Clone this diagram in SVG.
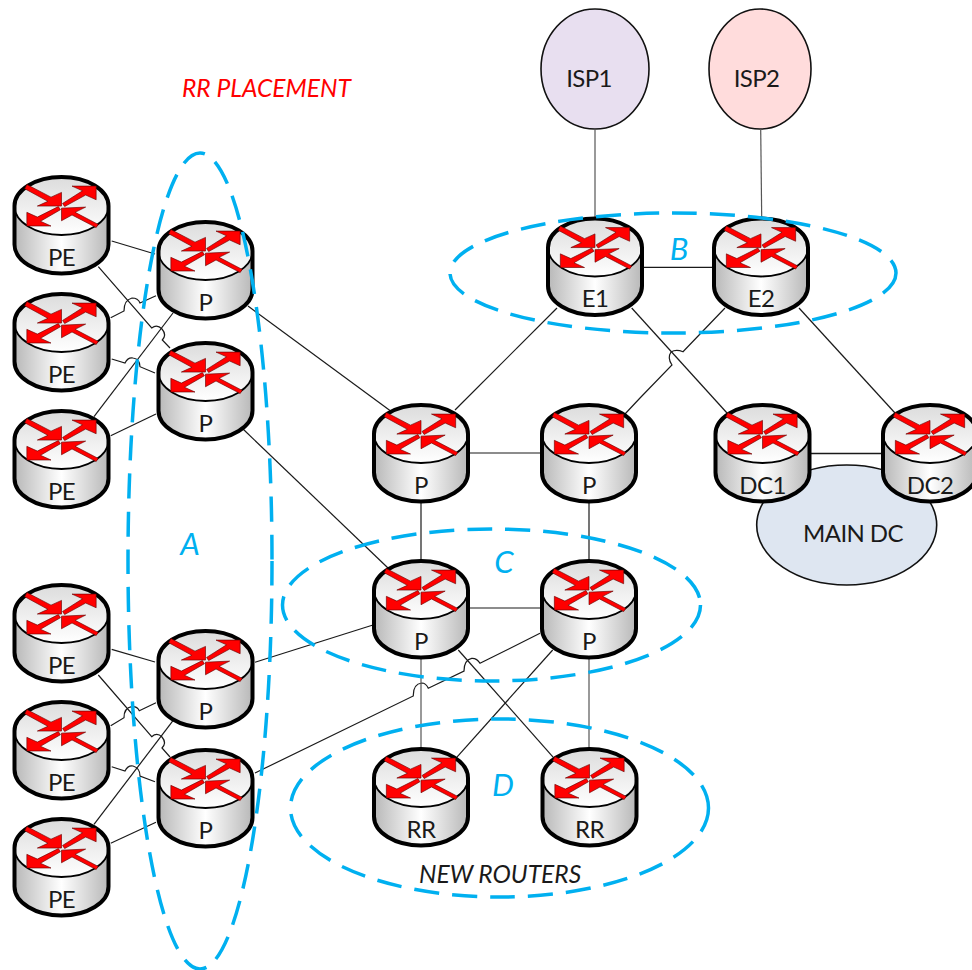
<svg xmlns="http://www.w3.org/2000/svg" width="972" height="970" viewBox="0 0 972 970">
<style>
text{font-family:Lato,"Liberation Sans",sans-serif;fill:#1a1a1a}
.lbl{font-size:24px;letter-spacing:-.6px;text-anchor:middle}
.cl{font-size:31px;font-style:italic;fill:#00b0f0;text-anchor:middle}
.it{font-size:24.600px;font-style:italic}
.dash{fill:none;stroke:#00b0f0;stroke-width:3.500;stroke-dasharray:25 13}
.conn path{fill:none;stroke:#1a1a1a;stroke-width:1.200}
.cloud{stroke:#111;stroke-width:1.600}
</style>
<defs>
<linearGradient id="body"><stop offset="0" stop-color="#b8b8b8"/><stop offset=".5" stop-color="#fff"/><stop offset="1" stop-color="#b8b8b8"/></linearGradient>
<linearGradient id="top" x1="0" y1="0" x2="0" y2="1"><stop offset="0" stop-color="#dcdcdc"/><stop offset="1" stop-color="#fff"/></linearGradient>
<g id="router">
<path d="M-47 1V39.500A47 29 0 0 0 47 39.500V1Z" fill="url(#body)"/>
<ellipse cy="1" rx="47" ry="29" fill="url(#top)" stroke="#000" stroke-width="1.800"/>
<path d="M-47 1A47 29 0 0 1 47 1V39.500A47 29 0 0 1 -47 39.500Z" fill="none" stroke="#000" stroke-width="4"/>
<g fill="#f00" stroke="#600" stroke-width=".6" transform="scale(1.050)">
<polygon points="-33,-19.500 -10,-7.500 0,-12 0,1 -23,1 -13,-3.500 -35,-15.500"/>
<polygon points="33,-18 33,-5 23,-9.500 3,1.500 1,-1.500 20,-13.500 10,-18"/>
<polygon points="-33,20 -33,7 -23,11.500 -3,1.500 -1,4.500 -20,15.500 -10,20"/>
<polygon points="0,3 23,2 13,7 35,18.500 33,21.500 10,9.500 0,15"/>
</g>
</g>
</defs>
<g id="clouds">
<g id="isp1"><ellipse class="cloud" cx="595" cy="69" rx="54" ry="60" fill="#e8dff0"/><text class="lbl" x="589" y="87">ISP1</text></g>
<g id="isp2"><ellipse class="cloud" cx="760" cy="69" rx="51" ry="60" fill="#ffdcdc"/><text class="lbl" x="756.500" y="87">ISP2</text></g>
<g id="main-dc"><ellipse class="cloud" cx="846.700" cy="525" rx="90" ry="60" fill="#dee6f1"/><text class="lbl" x="853" y="542">MAIN DC</text></g>
</g>
<g id="connectors" class="conn">
<path d="M111.700 241L155 254"/>
<path d="M98.300 266.700L151.700 328Q157 324 162 329Q167 335 162.300 340L170 348"/>
<path d="M110.700 317.700L124 311Q124 300 132 298Q138 298 140 303L156 295.700"/>
<path d="M111.700 359L125 363Q128 357 133 358Q140 359 140 366.700L155 373"/>
<path d="M94 416.700L173 313"/>
<path d="M110.700 435.700L156 414"/>
<path d="M248 306L392 412"/>
<path d="M243 429L388 568"/>
<path d="M557 308L455 410"/>
<path d="M470 453H541"/>
<path d="M421 498V560"/>
<path d="M589 498V560"/>
<path d="M470 608H541"/>
<path d="M643 267.300H714"/>
<path d="M595 129V218" style="stroke:#555"/>
<path d="M760.700 129L761.700 218" style="stroke:#555"/>
<path d="M631.700 308L727 413"/>
<path d="M725 308L683 351.700Q676 349 671 352Q667 358 672 365L640 398L625 414"/>
<path d="M799 308L895 413"/>
<path d="M810 453.500H882" style="stroke-width:1.500"/>
<path d="M111.700 649.300L155 662"/>
<path d="M98.300 675L151.700 736.700Q157 732 162 737Q167 743 162 748L170 757"/>
<path d="M110.700 725.700L124 717.700Q124 708 131.700 706.700Q137 706 139.300 710.700L156 702.700"/>
<path d="M111.700 766.700L125 771Q128 765 133 766Q140 768 140 776L155 781.700"/>
<path d="M94 824.300L173 720.700"/>
<path d="M110.700 843.300L156 822.300"/>
<path d="M255 662.300L373 625"/>
<path d="M255 773L413.300 696Q413 684 421.700 683Q426 683 428.300 688.300L464 671Q464 660 471.700 658.300Q477 658 480 663.300L540 633.300"/>
<path d="M458.300 650L553.300 757.300"/>
<path d="M552.700 650L456.700 757.300"/>
<path d="M421 655V749" style="stroke:#555"/>
<path d="M589 655V749" style="stroke:#555"/>
</g>
<g id="pe1"><use href="#router" x="61.500" y="205"/><text class="lbl" x="61.500" y="266">PE</text></g>
<g id="pe2"><use href="#router" x="61.500" y="322"/><text class="lbl" x="61.500" y="383">PE</text></g>
<g id="pe3"><use href="#router" x="61.500" y="439"/><text class="lbl" x="61.500" y="500">PE</text></g>
<g id="p1"><use href="#router" x="205.500" y="250"/><text class="lbl" x="205.500" y="311">P</text></g>
<g id="p2"><use href="#router" x="205.500" y="371"/><text class="lbl" x="205.500" y="432">P</text></g>
<g id="p3"><use href="#router" x="421" y="433"/><text class="lbl" x="421" y="494">P</text></g>
<g id="p4"><use href="#router" x="589" y="433"/><text class="lbl" x="589" y="494">P</text></g>
<g id="e1"><use href="#router" x="595" y="246.500"/><text class="lbl" x="595" y="307">E1</text></g>
<g id="e2"><use href="#router" x="761" y="246.500"/><text class="lbl" x="761" y="307">E2</text></g>
<g id="dc1"><use href="#router" x="762.500" y="433"/><text class="lbl" x="762.500" y="494">DC1</text></g>
<g id="dc2"><use href="#router" x="930" y="433"/><text class="lbl" x="930" y="494">DC2</text></g>
<g id="p5"><use href="#router" x="421" y="589"/><text class="lbl" x="421" y="650">P</text></g>
<g id="p6"><use href="#router" x="589" y="589"/><text class="lbl" x="589" y="650">P</text></g>
<g id="rr1"><use href="#router" x="421" y="777"/><text class="lbl" x="421" y="838">RR</text></g>
<g id="rr2"><use href="#router" x="589.500" y="777"/><text class="lbl" x="589.500" y="838">RR</text></g>
<g id="pe4"><use href="#router" x="61.500" y="613"/><text class="lbl" x="61.500" y="674">PE</text></g>
<g id="pe5"><use href="#router" x="61.500" y="730"/><text class="lbl" x="61.500" y="791">PE</text></g>
<g id="pe6"><use href="#router" x="61.500" y="847"/><text class="lbl" x="61.500" y="908">PE</text></g>
<g id="p7"><use href="#router" x="205.500" y="659"/><text class="lbl" x="205.500" y="720">P</text></g>
<g id="p8"><use href="#router" x="205.500" y="778"/><text class="lbl" x="205.500" y="839">P</text></g>
<g id="regions">
<ellipse class="dash" cx="200" cy="561" rx="72" ry="408"/>
<ellipse class="dash" cx="673" cy="273" rx="223" ry="60"/>
<ellipse class="dash" cx="491.500" cy="605" rx="209" ry="76"/>
<ellipse class="dash" cx="499.500" cy="808" rx="209" ry="89"/>
<text class="cl" x="190" y="555">A</text>
<text class="cl" x="679" y="260">B</text>
<text class="cl" x="504" y="573">C</text>
<text class="cl" x="503" y="796">D</text>
<text class="it" x="182" y="97" style="fill:#f00">RR PLACEMENT</text>
<text class="it" x="419" y="883">NEW ROUTERS</text>
</g>
</svg>
